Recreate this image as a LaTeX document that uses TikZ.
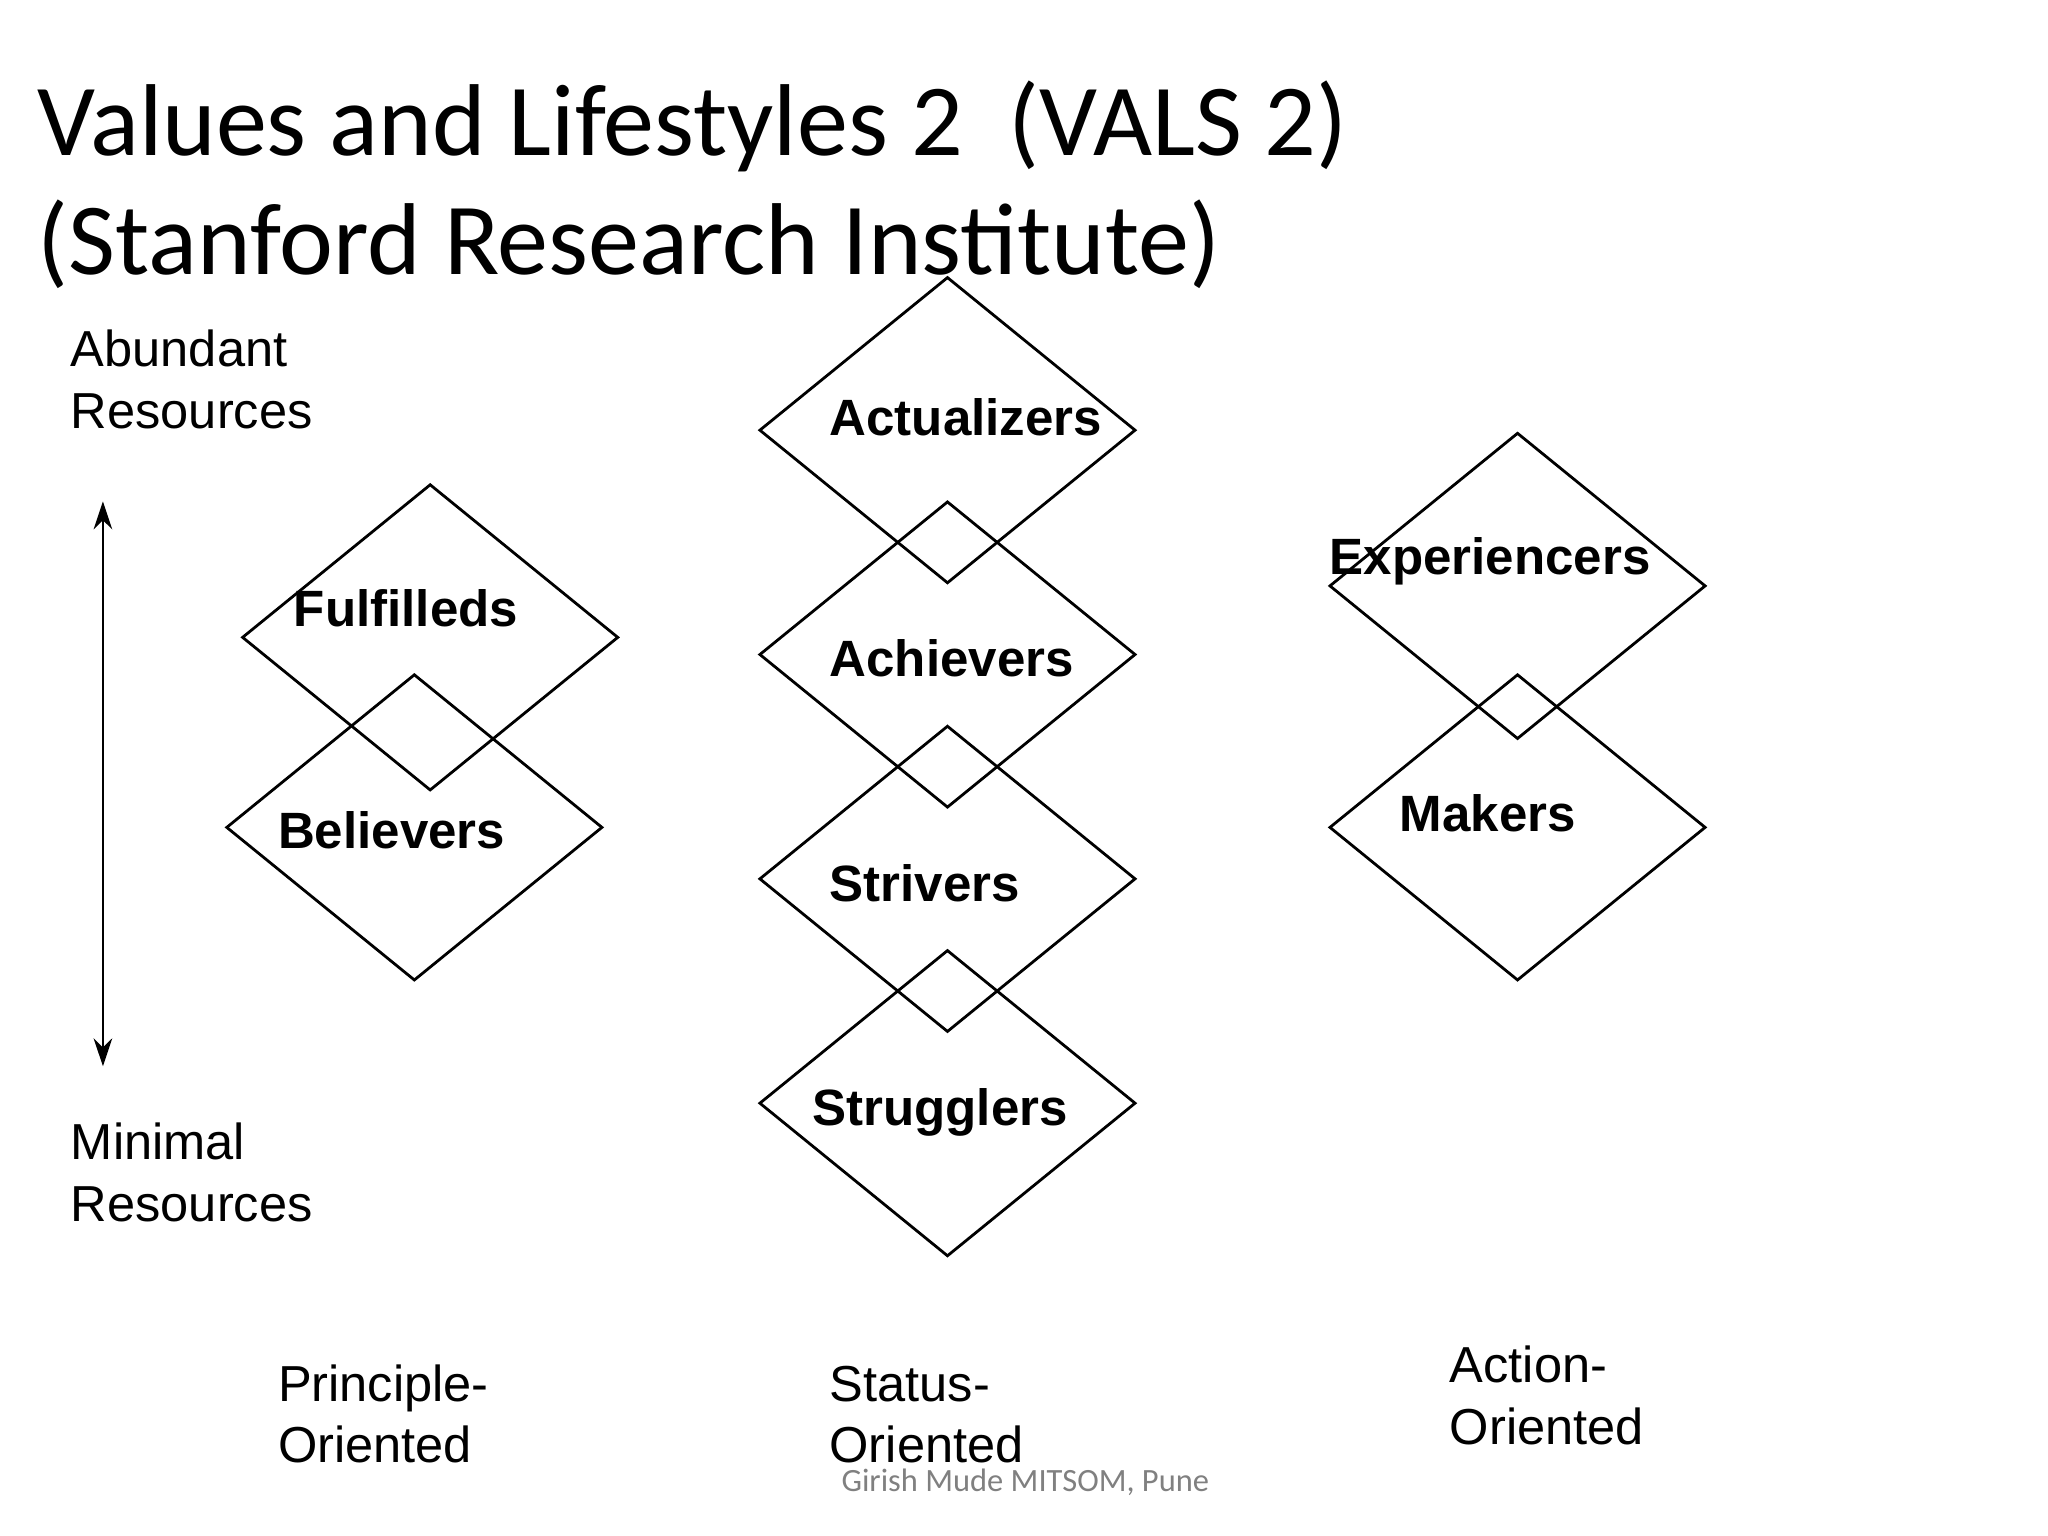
\documentclass[tikz,border=0pt]{standalone}
\usepackage{fontspec}
\setmainfont{Liberation Sans}
\newfontfamily\calib{Carlito}
\usetikzlibrary{shapes.geometric,arrows.meta}
\begin{document}
\begin{tikzpicture}[x=0.01cm,y=-0.01cm,
  dia/.style={draw,diamond,line width=0.6pt,minimum width=2.85cm,minimum height=2.32cm,inner sep=0pt},
  lbl/.style={anchor=base west,font=\fontsize{11}{13}\selectfont\bfseries,inner sep=0pt},
  txt/.style={anchor=base west,font=\fontsize{10.9}{13}\selectfont,inner sep=0pt},
  ttl/.style={anchor=base west,font=\calib\fontsize{22}{26}\selectfont,inner sep=0pt}]
\useasboundingbox (0,0) rectangle (1552,1164);
\node[ttl] (t1) at (28,118) {Values and Lifestyles 2\ \ (VALS 2)};
\node[ttl] (t2) at (28,208) {(Stanford Research Institute)};
\node[dia] (act) at (718,326) {};
\node[dia] (ach) at (718,496) {};
\node[dia] (str) at (718,666) {};
\node[dia] (stg) at (718,836) {};
\node[dia] (ful) at (326,483) {};
\node[dia] (bel) at (314,627) {};
\node[dia] (exp) at (1150,444) {};
\node[dia] (mak) at (1150,627) {};
\node[lbl] at (628,330) {Actualizers};
\node[lbl] at (222,475) {Fulfilleds};
\node[lbl] at (210,643) {Believers};
\node[lbl] at (628,513) {Achievers};
\node[lbl] at (628,683) {Strivers};
\node[lbl] at (615,853) {Strugglers};
\node[lbl] at (1007,435) {Experiencers};
\node[lbl] at (1060,630) {Makers};
\node[txt] at (53,278) {Abundant};
\node[txt] at (53,325) {Resources};
\node[txt] at (53,879) {Minimal};
\node[txt] at (53,926) {Resources};
\node[txt] at (210,1062) {Principle-};
\node[txt] at (210,1108) {Oriented};
\node[txt] at (628,1062) {Status-};
\node[txt] at (628,1108) {Oriented};
\node[txt] at (1098,1048) {Action-};
\node[txt] at (1098,1095) {Oriented};
\node[anchor=base west,inner sep=0pt,text=gray,font=\calib\fontsize{7}{9}\selectfont] at (637,1130) {Girish Mude MITSOM, Pune};
\coordinate (au) at (78,380);
\coordinate (ad) at (78,808);
\draw[line width=0.6pt,{Stealth[length=6pt,width=4pt]}-{Stealth[length=6pt,width=4pt]}] (au) -- (ad);
\end{tikzpicture}
\end{document}
